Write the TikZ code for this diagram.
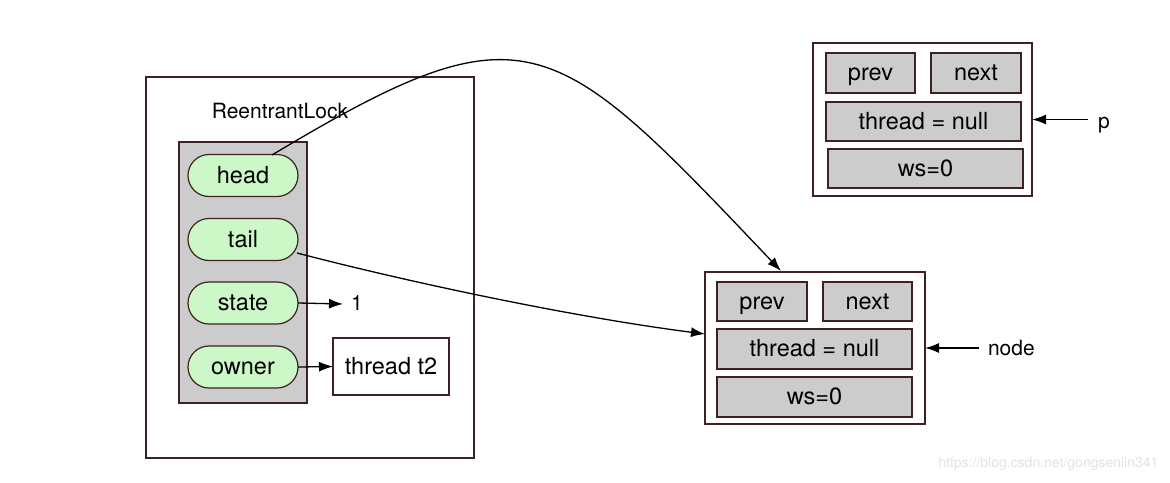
\documentclass[tikz,border=0pt]{standalone}
\usepackage{fontspec}
\setmainfont{TeX Gyre Heros}
\usetikzlibrary{shapes.misc,arrows.meta}
\definecolor{edge}{HTML}{3E2222}
\definecolor{cellgray}{HTML}{CCCCCC}
\definecolor{pillgreen}{HTML}{CCF8C8}
\definecolor{mark}{HTML}{E2E2E2}
\tikzset{
  bigtext/.style={font=\fontsize{23.5}{26}\selectfont, text height=20pt, text depth=4.9pt},
  smalltext/.style={font=\fontsize{21}{23}\selectfont, text height=17.5pt, text depth=4.4pt},
  frame/.style={draw=edge, line width=1.2pt, fill=white, inner sep=0pt, outer sep=0pt},
  cell/.style={draw=edge, line width=1.2pt, fill=cellgray, inner sep=0pt, outer sep=0pt, bigtext},
  pill/.style={rounded rectangle, draw=edge, line width=1.2pt, fill=pillgreen,
    minimum width=110pt, minimum height=42pt, inner sep=0pt, outer sep=0pt, bigtext},
  plain/.style={inner sep=0pt, outer sep=0pt, smalltext},
  link/.style={line width=1.3pt, -{Latex[length=14pt,width=10pt]}},
}
\begin{document}
\begin{tikzpicture}[x=1pt,y=-1pt]
\useasboundingbox (0,0) rectangle (1170,482);

% ReentrantLock object
\node[frame, minimum width=328pt, minimum height=381pt] (lock) at (310,267.5) {};
\node[plain] (locklabel) at (280,112) {ReentrantLock};
\node[cell, minimum width=128pt, minimum height=261pt] (fields) at (243,272.5) {};
\node[pill] (head)  at (243,175.5) {head};
\node[pill] (tail)  at (243,239.5) {tail};
\node[pill] (state) at (243,303)   {state};
\node[pill] (owner) at (243,367)   {owner};
\node[plain] (one) at (357,304) {1};
\node[frame, bigtext, minimum width=116pt, minimum height=57pt] (t2) at (391,366.5) {thread t2};

% queue node referenced by "node"
\node[frame, minimum width=220pt, minimum height=152pt] (qnode) at (815,348) {};
\node[cell, minimum width=90pt,  minimum height=39pt] (nprev) at (762,301.5) {prev};
\node[cell, minimum width=89pt,  minimum height=39pt] (nnext) at (867.5,301.5) {next};
\node[cell, minimum width=195pt, minimum height=40pt] (nthread) at (814.5,349) {thread = null};
\node[cell, minimum width=195pt, minimum height=40pt] (nws) at (814.5,397) {ws=0};
\node[plain, anchor=west] (nodelabel) at (988,349) {node};

% queue node referenced by "p"
\node[frame, minimum width=219pt, minimum height=153pt] (pnode) at (922.5,119.5) {};
\node[cell, minimum width=89pt,  minimum height=40pt] (pprev) at (870.5,73) {prev};
\node[cell, minimum width=90pt,  minimum height=40pt] (pnext) at (976,73) {next};
\node[cell, minimum width=195pt, minimum height=39pt] (pthread) at (923.5,121.5) {thread = null};
\node[cell, minimum width=195pt, minimum height=39pt] (pws) at (925.5,168.5) {ws=0};
\node[plain, anchor=west] (plabel) at (1098,122) {p};

% references
\coordinate (headout) at (272,155);
\coordinate (tailout) at (297,253);
\coordinate (nodetop) at (781,271);
\coordinate (nodeleft) at (705,334);
\draw[link] (headout) .. controls (527,2) and (552,30) .. (nodetop);
\draw[link] (tailout) .. controls (420,285) and (580,318) .. (nodeleft);
\draw[link] (state.east) -- (one.west -| 343,0);
\draw[link] (owner.east) -- (t2.west);
\draw[link] (qnode.east) ++(54,0) -- (qnode.east);
\draw[link] (pnode.east) ++(56,0) -- (pnode.east);

% watermark
\node[anchor=east, text=mark, font=\fontsize{14}{16}\selectfont] (wm) at (1162,464) {https://blog.csdn.net/gongsenlin341};
\end{tikzpicture}
\end{document}
